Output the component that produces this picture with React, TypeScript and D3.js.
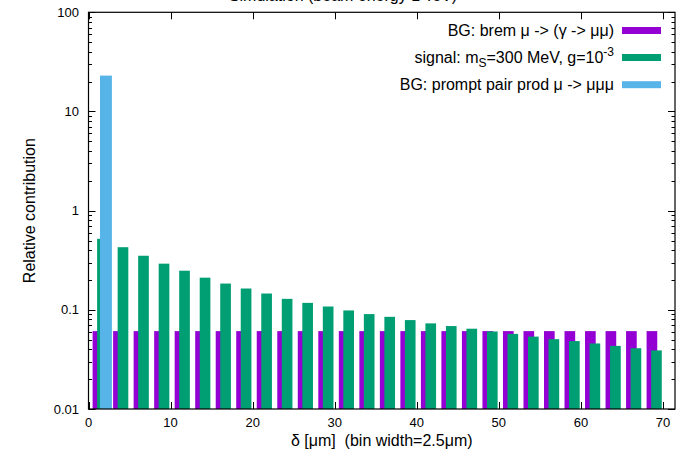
import React, { useEffect, useRef } from 'react';
import * as d3 from 'd3';

// bins of 2.5 um
const binStarts = [0, 2.5, 5, 7.5, 10, 12.5, 15, 17.5, 20, 22.5, 25, 27.5, 30, 32.5, 35, 37.5, 40, 42.5, 45, 47.5, 50, 52.5, 55, 57.5, 60, 62.5, 65, 67.5];
const bremValues = [0.061, 0.061, 0.061, 0.061, 0.061, 0.061, 0.061, 0.061, 0.061, 0.061, 0.061, 0.061, 0.061, 0.061, 0.061, 0.061, 0.061, 0.061, 0.061, 0.061, 0.061, 0.061, 0.061, 0.061, 0.061, 0.061, 0.061, 0.061];
const signalValues = [0.52, 0.428, 0.351, 0.292, 0.248, 0.211, 0.184, 0.164, 0.146, 0.129, 0.1175, 0.108, 0.0986, 0.0906, 0.085, 0.0788, 0.073, 0.0686, 0.0645, 0.0605, 0.0572, 0.0537, 0.0506, 0.0484, 0.0458, 0.0433, 0.041, 0.039];
const promptBins = [0];
const promptValues = [23];

const xTicks = [0, 10, 20, 30, 40, 50, 60, 70];
const yTicks = [0.01, 0.1, 1, 10, 100];
const yTickLabels = ['0.01', '0.1', '1', '10', '100'];

const seriesColors = ['#9400d3', '#009e73', '#56b4e9'];

const FONT = '"Liberation Sans", Arial, Helvetica, sans-serif';

const App = () => {
    const svgRef = useRef<SVGSVGElement>(null);

    useEffect(() => {
        const width = 686;
        const height = 451;
        const margin = { top: 12.3, right: 11, bottom: 42, left: 88.5 };

        const svg = d3.select(svgRef.current);
        svg.selectAll('*').remove();
        svg.attr('width', width).attr('height', height);

        svg.append('rect').attr('width', width).attr('height', height).attr('fill', '#fff');

        const x0 = margin.left;
        const x1 = width - margin.right;
        const y0 = margin.top;
        const y1 = height - margin.bottom;

        // 0 at the left border, 70 at ~663px
        const xScale = d3.scaleLinear().domain([0, 70]).range([88.5, 663]);
        const yScale = d3.scaleLog().domain([0.01, 100]).range([y1, y0]);

        const drawBars = (starts: number[], values: number[], offset: number, w: number, color: string) => {
            svg.append('g')
                .selectAll('rect')
                .data(values)
                .enter()
                .append('rect')
                .attr('x', (d, i) => xScale(starts[i] + offset))
                .attr('width', xScale(w) - xScale(0))
                .attr('y', d => yScale(d))
                .attr('height', d => y1 - yScale(d))
                .attr('fill', color);
        };

        drawBars(binStarts, bremValues, 0.5, 1.3, seriesColors[0]);
        drawBars(binStarts, signalValues, 1.05, 1.3, seriesColors[1]);
        drawBars(promptBins, promptValues, 1.4, 1.45, seriesColors[2]);

        // ticks (gnuplot style, inward and mirrored)
        const ticks = svg.append('g').attr('stroke', '#000').attr('stroke-width', 1);
        xTicks.forEach(t => {
            const x = Math.round(xScale(t)) + 0.5;
            ticks.append('line').attr('x1', x).attr('x2', x).attr('y1', y1).attr('y2', y1 - 7);
            ticks.append('line').attr('x1', x).attr('x2', x).attr('y1', y0).attr('y2', y0 + 7);
        });
        const minor: number[] = [];
        yTicks.slice(0, -1).forEach(d => {
            for (let m = 2; m <= 9; m++) minor.push(d * m);
        });
        yTicks.forEach(t => {
            const y = Math.round(yScale(t)) + 0.5;
            ticks.append('line').attr('x1', x0).attr('x2', x0 + 7).attr('y1', y).attr('y2', y);
            ticks.append('line').attr('x1', x1).attr('x2', x1 - 7).attr('y1', y).attr('y2', y);
        });
        minor.forEach(t => {
            const y = Math.round(yScale(t)) + 0.5;
            ticks.append('line').attr('x1', x0).attr('x2', x0 + 3.5).attr('y1', y).attr('y2', y);
            ticks.append('line').attr('x1', x1).attr('x2', x1 - 3.5).attr('y1', y).attr('y2', y);
        });

        svg.append('rect')
            .attr('x', x0)
            .attr('y', y0)
            .attr('width', x1 - x0)
            .attr('height', y1 - y0)
            .attr('fill', 'none')
            .attr('stroke', '#000')
            .attr('stroke-width', 1.2);

        // tick labels
        svg.append('g')
            .selectAll('text')
            .data(xTicks)
            .enter()
            .append('text')
            .attr('x', d => xScale(d))
            .attr('y', 427)
            .attr('text-anchor', 'middle')
            .style('font-family', FONT)
            .style('font-size', '13px')
            .text(d => d);

        svg.append('g')
            .selectAll('text')
            .data(yTicks)
            .enter()
            .append('text')
            .attr('x', 79)
            .attr('y', d => yScale(d) + 4.5)
            .attr('text-anchor', 'end')
            .style('font-family', FONT)
            .style('font-size', '13px')
            .text((d, i) => yTickLabels[i]);

        // axis titles
        svg.append('text')
            .attr('x', (x0 + x1) / 2)
            .attr('y', 446)
            .attr('text-anchor', 'middle')
            .style('font-family', FONT)
            .style('font-size', '16px')
            .style('white-space', 'pre')
            .text('δ [μm]  (bin width=2.5μm)');

        svg.append('text')
            .attr('transform', `translate(35, ${(y0 + y1) / 2}) rotate(-90)`)
            .attr('text-anchor', 'middle')
            .style('font-family', FONT)
            .style('font-size', '16px')
            .text('Relative contribution');

        // title, mostly cut off by the top of the picture
        svg.append('text')
            .attr('x', 343)
            .attr('y', 1)
            .attr('text-anchor', 'middle')
            .style('font-family', FONT)
            .style('font-size', '16px')
            .text('Simulation (beam energy 1 TeV)');

        // legend
        const legend = svg.append('g').style('font-family', FONT).style('font-size', '16px');
        const rowY = [30.5, 57.5, 84.7];
        rowY.forEach((cy, i) => {
            legend.append('rect')
                .attr('x', 622)
                .attr('y', cy - 3.5)
                .attr('width', 39)
                .attr('height', 7)
                .attr('fill', seriesColors[i]);
        });
        legend.append('text')
            .attr('x', 614)
            .attr('y', rowY[0] + 5.5)
            .attr('text-anchor', 'end')
            .text('BG: brem μ -> (γ -> μμ)');
        const sig = legend.append('text')
            .attr('x', 614)
            .attr('y', rowY[1] + 5.5)
            .attr('text-anchor', 'end');
        sig.append('tspan').text('signal: m');
        sig.append('tspan').attr('dy', 4).style('font-size', '12px').text('S');
        sig.append('tspan').attr('dy', -4).text('=300 MeV, g=10');
        sig.append('tspan').attr('dy', -7).style('font-size', '12px').text('-3');
        legend.append('text')
            .attr('x', 614)
            .attr('y', rowY[2] + 5.5)
            .attr('text-anchor', 'end')
            .text('BG: prompt pair prod μ -> μμμ');
    }, []);

    return <svg ref={svgRef} style={{ position: 'absolute', left: 0, top: 0 }}></svg>;
};

export default App;
